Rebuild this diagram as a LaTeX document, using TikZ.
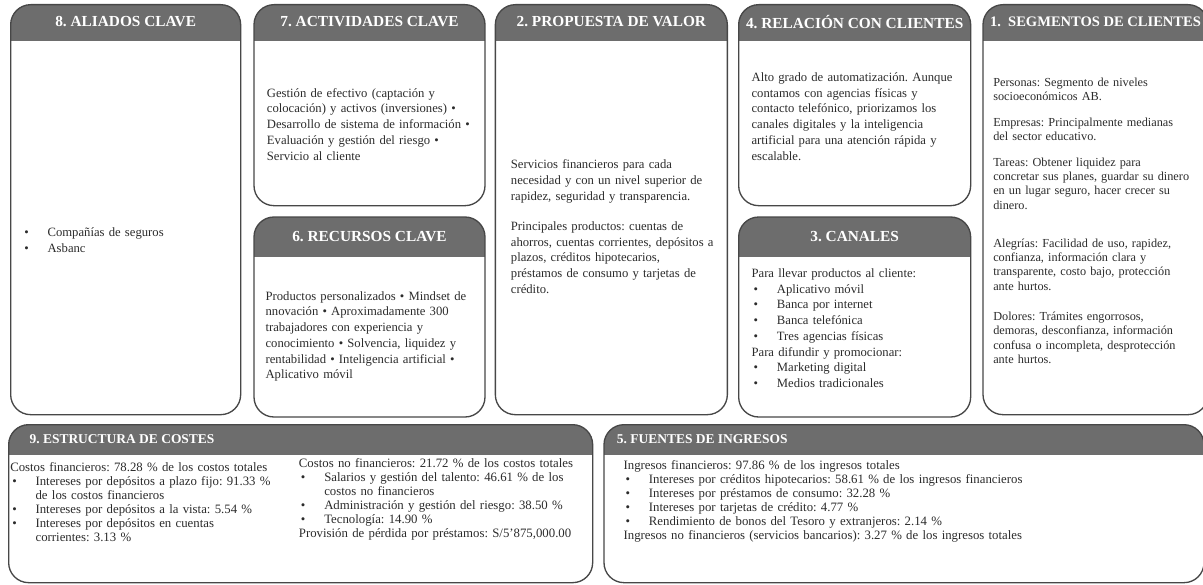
\documentclass[tikz,border=0pt]{standalone}
\usepackage{fontspec}
\setmainfont{Liberation Serif}
\usepackage{xcolor}
\usetikzlibrary{positioning}

\definecolor{headgray}{HTML}{6D6D6D}
\definecolor{edgegray}{HTML}{474747}
\definecolor{inkgray}{HTML}{2B2B2B}

\setlength{\parindent}{0pt}
\frenchspacing
% bullet line with hanging indent (use \newline inside)
\newcommand{\bitem}[1]{\par\hangindent=19pt\hangafter=1\leavevmode\makebox[19pt][l]{\hspace{1.5pt}\textbullet}#1}

\begin{document}
\begin{tikzpicture}[x=0.75pt,y=-0.75pt]

\tikzstyle{canvas}[27pt]=[
  draw=edgegray,
  line width=1pt,
  rounded corners=15pt,
  anchor=north west,
  inner sep=0pt,
  path picture={\fill[headgray, sharp corners] (path picture bounding box.north west) rectangle ([yshift=-#1]path picture bounding box.north east);}
]
\tikzstyle{headtxt}=[text=white, inner sep=0pt, font=\bfseries\fontsize{11.5}{13}\selectfont]
\tikzstyle{bodytxt}=[text=inkgray, align=left, inner sep=0pt, anchor=west, font=\fontsize{9.5}{11.8}\selectfont]

\useasboundingbox (0,0) rectangle (1203,585);

% upper row
\node[canvas, minimum width=172.5pt, minimum height=307.5pt] (b8) at (10,4) {};
\node[canvas, minimum width=173.25pt, minimum height=150.75pt] (b7) at ([xshift=9pt]b8.north east) {};
\node[canvas=30pt, minimum width=173.25pt, minimum height=150pt] (b6) at ([yshift=-7.5pt]b7.south west) {};
\node[canvas, minimum width=174pt, minimum height=307.5pt] (b2) at ([xshift=6.75pt]b7.north east) {};
\node[canvas, minimum width=174pt, minimum height=150.75pt] (b4) at ([xshift=7.5pt]b2.north east) {};
\node[canvas=30pt, minimum width=174pt, minimum height=150pt] (b3) at ([yshift=-7.5pt]b4.south west) {};
\node[canvas, minimum width=168.75pt, minimum height=307.5pt] (b1) at ([xshift=8.25pt]b4.north east) {};

% lower row
\node[canvas=22.5pt, minimum width=438pt, minimum height=118.5pt] (b9) at (8,424) {};
\node[canvas=22.5pt, minimum width=450pt, minimum height=118.5pt] (b5) at ([xshift=7.5pt]b9.north east) {};

% titles
\node[headtxt] (h8) at ([yshift=-13.5pt]b8.north) {8. ALIADOS CLAVE};
\node[headtxt] (h7) at ([yshift=-13.5pt]b7.north) {7. ACTIVIDADES CLAVE};
\node[headtxt] (h6) at ([yshift=-15pt]b6.north) {6. RECURSOS CLAVE};
\node[headtxt] (h2) at ([yshift=-13.5pt]b2.north) {2. PROPUESTA DE VALOR};
\node[headtxt] (h4) at ([yshift=-13.5pt]b4.north) {4. RELACIÓN CON CLIENTES};
\node[headtxt] (h3) at ([yshift=-15pt]b3.north) {3. CANALES};
\node[headtxt, font=\bfseries\fontsize{10.9}{13}\selectfont] (h1) at ([yshift=-13.5pt]b1.north) {1.\hspace{0.5em}SEGMENTOS DE CLIENTES};
\node[headtxt, anchor=west, font=\bfseries\fontsize{10.1}{12}\selectfont] (h9) at ([xshift=16pt,yshift=-11.5pt]b9.north west) {9. ESTRUCTURA DE COSTES};
\node[headtxt, anchor=west, font=\bfseries\fontsize{10.1}{12}\selectfont] (h5) at ([xshift=10pt,yshift=-11.5pt]b5.north west) {5. FUENTES DE INGRESOS};

% contents
\node[bodytxt, text width=155pt] (t8) at ([xshift=9pt,yshift=-20pt]b8.west)
{\bitem{Compañías de seguros}\bitem{Asbanc}\par};

\node[bodytxt, text width=160pt] (t7) at ([xshift=10pt,yshift=-14.25pt]b7.west)
{Gestión de efectivo (captación y\\colocación) y activos (inversiones) •\\Desarrollo de sistema de información •\\Evaluación y gestión del riesgo •\\Servicio al cliente};

\node[bodytxt, text width=160pt] (t6) at ([xshift=9pt,yshift=-14.6pt]b6.west)
{Productos personalizados • Mindset de\\nnovación • Aproximadamente 300\\trabajadores con experiencia y\\conocimiento • Solvencia, liquidez y\\rentabilidad • Inteligencia artificial •\\Aplicativo móvil};

\node[bodytxt, text width=160pt] (t2) at ([xshift=12pt,yshift=-12.75pt]b2.west)
{Servicios financieros para cada\\necesidad y con un nivel superior de\\rapidez, seguridad y transparencia.\\[10.7pt]Principales productos: cuentas de\\ahorros, cuentas corrientes, depósitos a\\plazos, créditos hipotecarios,\\préstamos de consumo y tarjetas de\\crédito.};

\node[bodytxt, text width=160pt] (t4) at ([xshift=10pt,yshift=-8.5pt]b4.west)
{Alto grado de automatización. Aunque\\contamos con agencias físicas y\\contacto telefónico, priorizamos los\\canales digitales y la inteligencia\\artificial para una atención rápida y\\escalable.};

\node[bodytxt, text width=160pt] (t3) at ([xshift=10pt,yshift=-8.4pt]b3.west)
{Para llevar productos al cliente:\bitem{Aplicativo móvil}\bitem{Banca por internet}\bitem{Banca telefónica}\bitem{Tres agencias físicas}\par Para difundir y promocionar:\bitem{Marketing digital}\bitem{Medios tradicionales}\par};

\node[bodytxt, text width=160pt, font=\fontsize{9.2}{10.7}\selectfont] (t1) at ([xshift=8pt,yshift=-8.25pt]b1.west)
{Personas: Segmento de niveles\\socioeconómicos AB.\\[8.6pt]Empresas: Principalmente medianas\\del sector educativo.\\[8.6pt]Tareas: Obtener liquidez para\\concretar sus planes, guardar su dinero\\en un lugar seguro, hacer crecer su\\dinero.\\[18pt]Alegrías: Facilidad de uso, rapidez,\\confianza, información clara y\\transparente, costo bajo, protección\\ante hurtos.\\[12pt]Dolores: Trámites engorrosos,\\demoras, desconfianza, información\\confusa o incompleta, desprotección\\ante hurtos.};

\node[bodytxt, anchor=north west, text width=215pt, font=\fontsize{9.6}{10.5}\selectfont] (t9a) at ([xshift=1.5pt,yshift=-29pt]b9.north west)
{Costos financieros: 78.28 \% de los costos totales\bitem{Intereses por depósitos a plazo fijo: 91.33 \%\newline de los costos financieros}\bitem{Intereses por depósitos a la vista: 5.54 \%}\bitem{Intereses por depósitos en cuentas\newline corrientes: 3.13 \%}\par};

\node[bodytxt, anchor=north west, text width=218pt, font=\fontsize{9.6}{10.5}\selectfont] (t9b) at ([xshift=218pt,yshift=-26pt]b9.north west)
{Costos no financieros: 21.72 \% de los costos totales\bitem{Salarios y gestión del talento: 46.61 \% de los\newline costos no financieros}\bitem{Administración y gestión del riesgo: 38.50 \%}\bitem{Tecnología: 14.90 \%}\par Provisión de pérdida por préstamos: S/5’875,000.00};

\node[bodytxt, anchor=north west, text width=400pt, font=\fontsize{9.6}{10.5}\selectfont] (t5) at ([xshift=15pt,yshift=-27pt]b5.north west)
{Ingresos financieros: 97.86 \% de los ingresos totales\bitem{Intereses por créditos hipotecarios: 58.61 \% de los ingresos financieros}\bitem{Intereses por préstamos de consumo: 32.28 \%}\bitem{Intereses por tarjetas de crédito: 4.77 \%}\bitem{Rendimiento de bonos del Tesoro y extranjeros: 2.14 \%}\par Ingresos no financieros (servicios bancarios): 3.27 \% de los ingresos totales};

\end{tikzpicture}
\end{document}
